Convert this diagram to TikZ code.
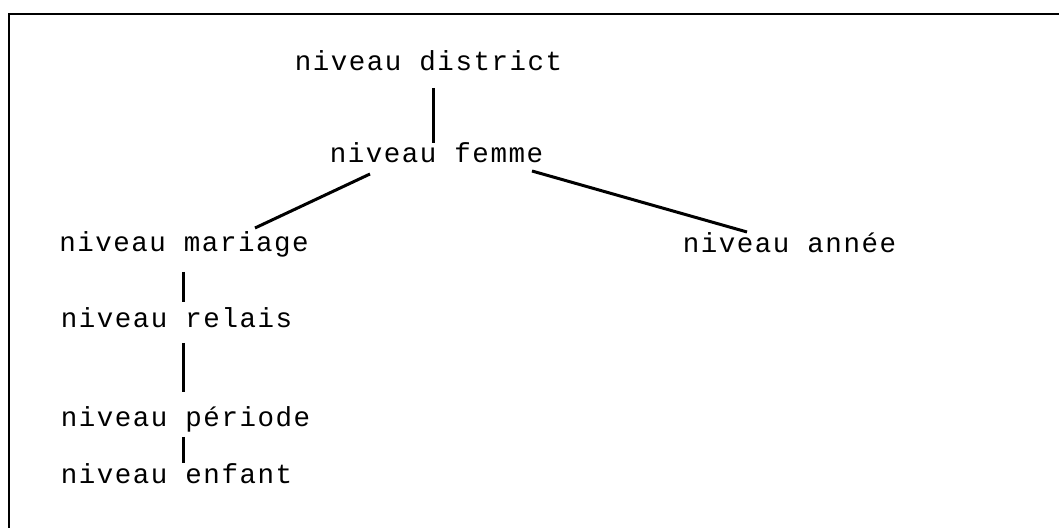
\documentclass[tikz,border=0pt]{standalone}
\usepackage{fontspec}
\setmonofont[LetterSpace=5.5]{Liberation Mono}
\usetikzlibrary{ calc, % For offsets from node anchors
               }
\tikzstyle{levelbox} = [anchor=base west, inner sep=0pt, font=\ttfamily\fontsize{13.75}{16}\selectfont]
\tikzstyle{connector} = [line width=1.5pt]
\tikzstyle{frame} = [line width=1.4pt]

\begin{document}
\begin{tikzpicture}[x=0.5pt, y=-0.5pt]
  \useasboundingbox (0,0) rectangle (1059,528);
  \draw [frame] (9,528) -- (9,14) -- (1059,14);

  \node (dist) [levelbox] at (294.5, 71) {niveau district};
  \node (fem)  [levelbox] at (329.5, 163) {niveau femme};
  \node (mar)  [levelbox] at (59, 252) {niveau mariage};
  \node (ann)  [levelbox] at (682.5, 253) {niveau année};
  \node (rel)  [levelbox] at (60.5, 328) {niveau relais};
  \node (per)  [levelbox] at (60.5, 427) {niveau période};
  \node (enf)  [levelbox] at (60.5, 483) {niveau enfant};

  \draw [connector] ($(dist.base west)+(138.5,17)$) -- ($(fem.base west)+(103.5,-20)$);
  \draw [connector] ($(fem.base west)+(40.5,11)$) -- ($(mar.base west)+(196,-24)$);
  \draw [connector] ($(fem.base west)+(202.5,8)$) -- ($(ann.base west)+(64.5,-21)$);

  \draw [connector] ($(mar.base west)+(124,20)$) -- ($(rel.base west)+(122.5,-26)$);
  \draw [connector] ($(rel.base west)+(122.5,15)$) -- ($(per.base west)+(122.5,-35)$);
  \draw [connector] ($(per.base west)+(122.5,10)$) -- ($(enf.base west)+(122.5,-20)$);
\end{tikzpicture}
\end{document}
